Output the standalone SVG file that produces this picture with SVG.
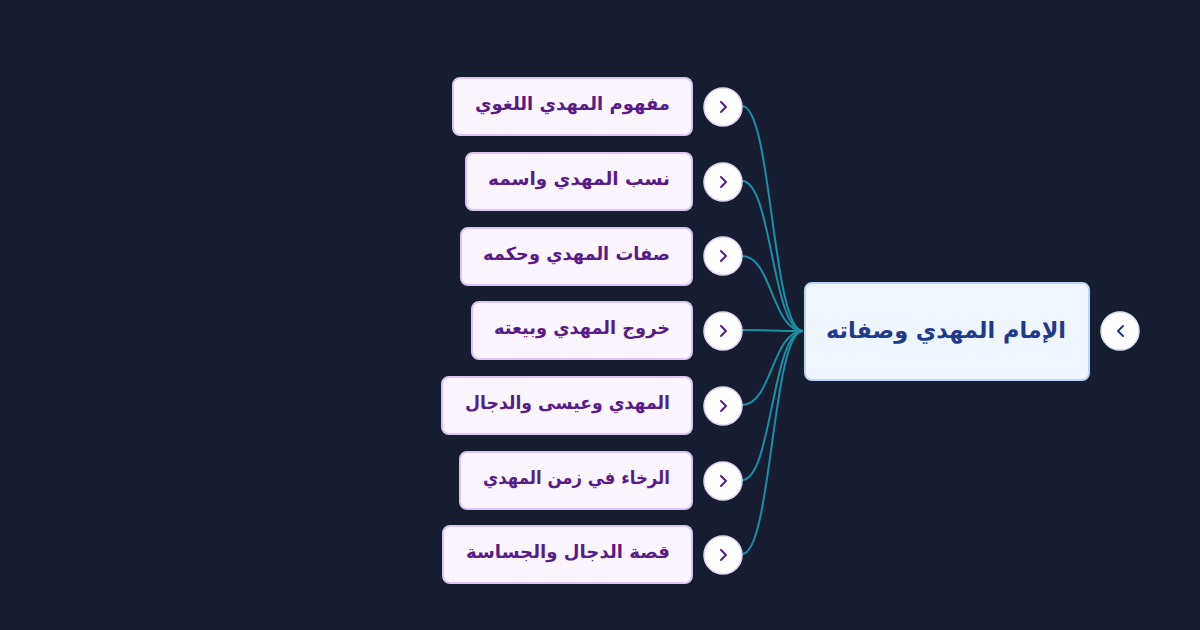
<svg xmlns="http://www.w3.org/2000/svg" width="1200" height="630" viewBox="0 0 1200 630">
<style>
.bg{fill:#161d30}
.child rect.box{fill:#faf5ff;stroke:#dcc4f5;stroke-width:2}
.child text{font-family:"DejaVu Sans",sans-serif;font-weight:bold;font-size:18px;fill:#581c87;text-anchor:end}
.btn{fill:#ffffff;stroke:#e4d4f4;stroke-width:1.5}
.chev{fill:none;stroke:#581c87;stroke-width:2;stroke-linecap:round;stroke-linejoin:round}
.root rect.box{fill:#eff6ff;stroke:#bcd6f8;stroke-width:2}
.root text{font-family:"DejaVu Sans",sans-serif;font-weight:bold;font-size:22.7px;fill:#1e3a8a;text-anchor:middle}
.rbtn{fill:#ffffff;stroke:#d6e2f2;stroke-width:1.5}
.rchev{fill:none;stroke:#1e3a8a;stroke-width:2;stroke-linecap:round;stroke-linejoin:round}
.conn path{fill:none;stroke:#1b8fa5;stroke-width:2}
</style>
<rect class="bg" x="0" y="0" width="1200" height="630"/>
<g class="conn" id="connectors">
<path d="M742,106 C772,106 772,331 803,331"/>
<path d="M742,181 C772,181 772,331 803,331"/>
<path d="M742,256 C772,256 772,331 803,331"/>
<path d="M742,330 C772,330 772,331 803,331"/>
<path d="M742,405 C772,405 772,331 803,331"/>
<path d="M742,480 C772,480 772,331 803,331"/>
<path d="M742,554 C772,554 772,331 803,331"/>
</g>
<g class="root" id="root">
<rect class="box" x="805" y="283" width="284" height="97" rx="7"/>
<text x="946" y="338" textLength="240" lengthAdjust="spacingAndGlyphs">الإمام المهدي وصفاته</text>
<circle class="rbtn" cx="1120" cy="331" r="19"/>
<path class="rchev" d="M1123,326 L1118,331 L1123,336"/>
</g>
<g class="child" id="n1">
<rect class="box" x="453" y="78" width="239" height="57" rx="7"/>
<text x="670" y="110" textLength="195" lengthAdjust="spacingAndGlyphs">مفهوم المهدي اللغوي</text>
<circle class="btn" cx="723" cy="107" r="19"/>
<path class="chev" d="M721,102 L726,107 L721,112"/>
</g>
<g class="child" id="n2">
<rect class="box" x="466" y="153" width="226" height="57" rx="7"/>
<text x="670" y="185" textLength="182" lengthAdjust="spacingAndGlyphs">نسب المهدي واسمه</text>
<circle class="btn" cx="723" cy="182" r="19"/>
<path class="chev" d="M721,177 L726,182 L721,187"/>
</g>
<g class="child" id="n3">
<rect class="box" x="461" y="228" width="231" height="57" rx="7"/>
<text x="670" y="260" textLength="187" lengthAdjust="spacingAndGlyphs">صفات المهدي وحكمه</text>
<circle class="btn" cx="723" cy="256" r="19"/>
<path class="chev" d="M721,251 L726,256 L721,261"/>
</g>
<g class="child" id="n4">
<rect class="box" x="472" y="302" width="220" height="57" rx="7"/>
<text x="670" y="334" textLength="176" lengthAdjust="spacingAndGlyphs">خروج المهدي وبيعته</text>
<circle class="btn" cx="723" cy="331" r="19"/>
<path class="chev" d="M721,326 L726,331 L721,336"/>
</g>
<g class="child" id="n5">
<rect class="box" x="442" y="377" width="250" height="57" rx="7"/>
<text x="670" y="409" textLength="205" lengthAdjust="spacingAndGlyphs">المهدي وعيسى والدجال</text>
<circle class="btn" cx="723" cy="406" r="19"/>
<path class="chev" d="M721,401 L726,406 L721,411"/>
</g>
<g class="child" id="n6">
<rect class="box" x="460" y="452" width="232" height="57" rx="7"/>
<text x="670" y="484" textLength="187" lengthAdjust="spacingAndGlyphs">الرخاء في زمن المهدي</text>
<circle class="btn" cx="723" cy="481" r="19"/>
<path class="chev" d="M721,476 L726,481 L721,486"/>
</g>
<g class="child" id="n7">
<rect class="box" x="443" y="526" width="249" height="57" rx="7"/>
<text x="670" y="558" textLength="204" lengthAdjust="spacingAndGlyphs">قصة الدجال والجساسة</text>
<circle class="btn" cx="723" cy="555" r="19"/>
<path class="chev" d="M721,550 L726,555 L721,560"/>
</g>
</svg>
